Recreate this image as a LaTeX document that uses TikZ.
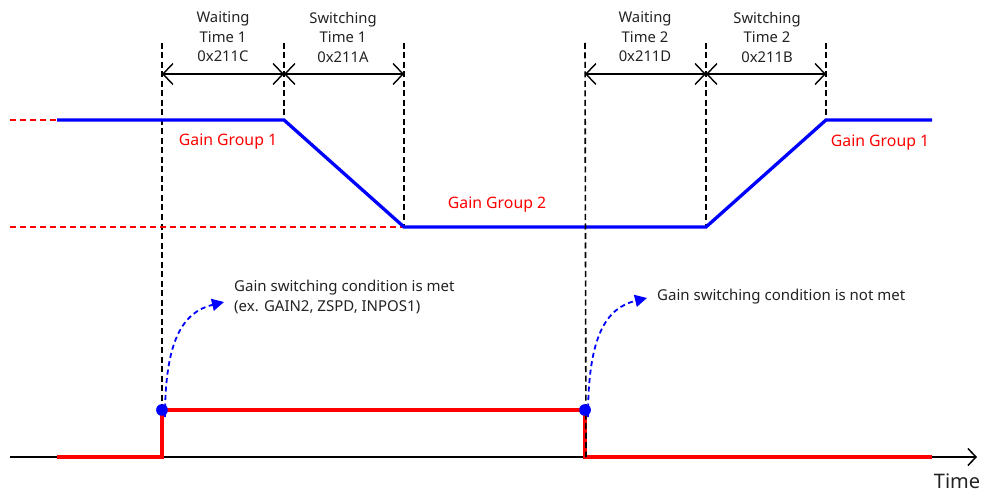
\documentclass[tikz,border=0pt]{standalone}
\usepackage{fontspec}
\setmainfont{Noto Sans}
\usetikzlibrary{arrows.meta}
\definecolor{txt}{HTML}{222222}
\begin{document}
\begin{tikzpicture}[x=1pt,y=-1pt,
  guide/.style={black,line width=1.6pt,dash pattern=on 6pt off 3.5pt},
  dimline/.style={black,line width=1.2pt,{Straight Barb[length=10pt,width=21pt,line width=1.4pt]}-{Straight Barb[length=10pt,width=21pt,line width=1.4pt]}},
  bluesig/.style={blue,line width=3.3pt,line join=miter},
  redsig/.style={red,line width=3.3pt},
  reddash/.style={red,line width=1.5pt,dash pattern=on 6pt off 4pt},
  curvearrow/.style={blue,line width=1.8pt,dash pattern=on 5pt off 3.5pt,-{Triangle[length=12pt,width=12pt]}},
  lbl/.style={text=txt,font=\fontsize{14.8}{19.5}\selectfont,align=center,inner sep=0pt},
  clbl/.style={text=txt,font=\fontsize{15}{19.5}\selectfont,align=left,inner sep=0pt},
  glbl/.style={text=red,font=\fontsize{15.8}{18}\selectfont,inner sep=0pt},
  dot/.style={circle,fill=blue,inner sep=0pt,minimum size=11.5pt}]
\useasboundingbox (0,0) rectangle (981,494);

% time coordinates
\coordinate (t1top) at (162,43);
\coordinate (t2top) at (284,43);
\coordinate (t3top) at (404,43);
\coordinate (t4top) at (585,43);
\coordinate (t5top) at (706,43);
\coordinate (t6top) at (826,43);
\coordinate (t1d) at (162,74);
\coordinate (t2d) at (284,74);
\coordinate (t3d) at (404,74);
\coordinate (t4d) at (585,74);
\coordinate (t5d) at (706,74);
\coordinate (t6d) at (826,74);

% blue gain curve points
\coordinate (b0) at (57,120);
\coordinate (b1) at (284,120);
\coordinate (b2) at (404,227);
\coordinate (b3) at (706,227);
\coordinate (b4) at (826,120);
\coordinate (b5) at (932,120);
\coordinate (rl1) at (10,120);
\coordinate (rl2) at (10,227);

% signal
\coordinate (s0) at (57,457);
\coordinate (s1) at (162,457);
\node[dot] (d1) at (162,410) {};
\node[dot] (d2) at (585,410) {};
\coordinate (s4) at (585,457);
\coordinate (s5) at (932,457);
\coordinate (ax0) at (10,457);
\coordinate (ax1) at (977,457);

% guides
\draw[guide] (t1top) -- (d1.center);
\draw[guide] (t2top) -- (b1);
\draw[guide] (t3top) -- (b2);
\draw[guide] (t5top) -- (b3);
\draw[guide] (t6top) -- (b4);

% red dashed references
\draw[reddash] (rl1) -- (b0);
\draw[reddash] (rl2) -- (b2);

% axis
\draw[black,line width=1.4pt,-{Straight Barb[length=8pt,width=17pt,line width=1.5pt]}] (ax0) -- (ax1);
\node[text=txt,font=\fontsize{20}{22}\selectfont,inner sep=0pt] (time) at (957,481) {Time};

% gain curve
\draw[bluesig] (b0) -- (b1) -- (b2) -- (b3) -- (b4) -- (b5);

% signal
\draw[redsig] (s0) -- (s1) -- (d1.center) -- (d2.center) -- (s4) -- (s5);
\draw[guide] (t4top) -- ([xshift=1pt]s4);
\node[dot] at (d1) {};
\node[dot] at (d2) {};

% dimension arrows
\draw[dimline] (t1d) -- (t2d);
\draw[dimline] (t2d) -- (t3d);
\draw[dimline] (t4d) -- (t5d);
\draw[dimline] (t5d) -- (t6d);

% labels
\node[lbl] (w1) at (223,37) {Waiting\\Time 1\\0x211C};
\node[lbl] (sw1) at (343,37) {Switching\\Time 1\\0x211A};
\node[lbl] (w2) at (645,37) {Waiting\\Time 2\\0x211D};
\node[lbl] (sw2) at (767,37) {Switching\\Time 2\\0x211B};

\node[glbl] (g1) at (228,142) {Gain Group 1};
\node[glbl] (g2) at (497,205) {Gain Group 2};
\node[glbl] (g3) at (880,143) {Gain Group 1};

% conditions
\node[clbl,anchor=west] (c1) at (234,297) {Gain switching condition is met\\(ex. GAIN2, ZSPD, INPOS1)};
\node[clbl,anchor=west] (c2) at (657,297) {Gain switching condition is not met};
\coordinate (e1) at (224,302);
\coordinate (e2) at (647,298);
\draw[curvearrow] ([xshift=3pt,yshift=-7pt]d1.center) .. controls ([xshift=3pt]d1.center |- 0,340) and (183,312) .. (e1);
\draw[curvearrow] ([xshift=3pt,yshift=-7pt]d2.center) .. controls ([xshift=3pt]d2.center |- 0,336) and (606,308) .. (e2);
\end{tikzpicture}
\end{document}
